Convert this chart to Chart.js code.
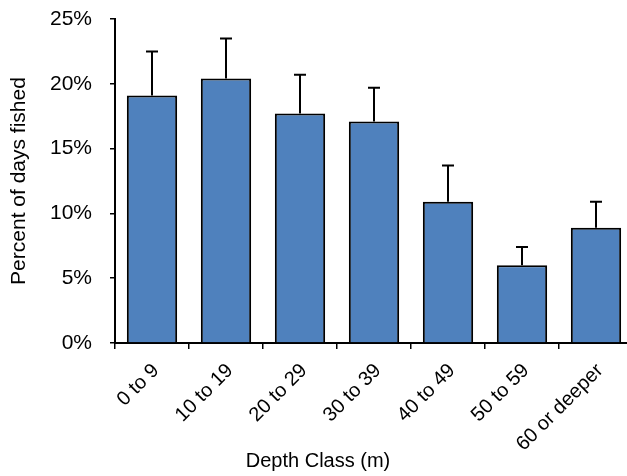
<!DOCTYPE html>
<html>
<head>
<meta charset="utf-8">
<script src="https://cdn.jsdelivr.net/npm/chart.js@4"></script>
<style>
  html, body { margin: 0; padding: 0; background: #fff; overflow: hidden; }
  #wrap { width: 640px; height: 476px; }
</style>
</head>
<body>
<div id="wrap"><canvas id="depthChart" width="640" height="476"></canvas></div>
<script>
const depthClasses = ['0 to 9', '10 to 19', '20 to 29', '30 to 39', '40 to 49', '50 to 59', '60 or deeper'];
const percentDays = [19.1, 20.4, 17.7, 17.1, 10.9, 6.0, 8.9];
const upperError = [3.4, 3.1, 3.0, 2.6, 2.8, 1.4, 2.0];
const yTicks = [0, 5, 10, 15, 20, 25];

const FAMILY = 'Liberation Sans, Arial, sans-serif';
const FONT = { family: FAMILY, size: 21 };
const XFONT = { family: FAMILY, size: 20 };

const errorBars = {
    id: 'errorBars',
    afterDatasetsDraw(chart) {
        const ctx = chart.ctx;
        const meta = chart.getDatasetMeta(0);
        const y = chart.scales.y;
        ctx.save();
        ctx.strokeStyle = '#000';
        ctx.lineWidth = 2;
        meta.data.forEach(function(bar, i) {
            const top = y.getPixelForValue(percentDays[i] + upperError[i]);
            const base = y.getPixelForValue(percentDays[i]);
            ctx.beginPath();
            ctx.moveTo(bar.x, base);
            ctx.lineTo(bar.x, top);
            ctx.moveTo(bar.x - 6, top);
            ctx.lineTo(bar.x + 6, top);
            ctx.stroke();
        });
        ctx.restore();
    }
};

const xTitle = {
    id: 'xTitle',
    afterDraw(chart) {
        const ctx = chart.ctx;
        ctx.save();
        ctx.font = XFONT.size + 'px ' + FAMILY;
        ctx.fillStyle = '#000';
        ctx.textAlign = 'center';
        ctx.textBaseline = 'middle';
        ctx.fillText('Depth Class (m)', 318, 461);
        ctx.restore();
    }
};

new Chart(document.getElementById('depthChart').getContext('2d'), {
    type: 'bar',
    data: {
        labels: depthClasses,
        datasets: [{
            label: 'Percent of days fished',
            data: percentDays,
            backgroundColor: '#4F81BD',
            borderColor: '#000',
            borderWidth: 2,
            barPercentage: 0.68,
            categoryPercentage: 1
        }]
    },
    options: {
        responsive: false,
        animation: false,
        layout: {
            padding: { top: 19, right: 7, left: 0, bottom: 0 }
        },
        plugins: {
            legend: { display: false },
            tooltip: { enabled: false }
        },
        scales: {
            x: {
                grid: {
                    offset: true,
                    drawOnChartArea: false,
                    drawTicks: true,
                    tickLength: 6,
                    color: '#000',
                    lineWidth: 1.5
                },
                border: { display: true, color: '#000', width: 2 },
                ticks: {
                    color: '#000',
                    font: XFONT,
                    minRotation: 45,
                    maxRotation: 45,
                    padding: 10,
                    labelOffset: 4,
                    autoSkip: false
                },
                afterFit: function(scale) {
                    scale.height = 133;
                    scale.paddingLeft = 0;
                    scale.paddingRight = 0;
                }
            },
            y: {
                min: 0,
                max: 25,
                afterBuildTicks: function(scale) {
                    scale.ticks = yTicks.map(function(v) { return { value: v }; });
                },
                grid: {
                    drawOnChartArea: false,
                    drawTicks: true,
                    tickLength: 5,
                    color: '#000',
                    lineWidth: 1.5
                },
                border: { display: true, color: '#000', width: 2 },
                ticks: {
                    color: '#000',
                    font: FONT,
                    padding: 18,
                    callback: function(value) { return value + '%'; }
                },
                title: {
                    display: true,
                    text: 'Percent of days fished',
                    color: '#000',
                    font: FONT,
                    padding: { top: 7, bottom: 0 }
                },
                afterFit: function(scale) {
                    scale.width = 115;
                    scale.paddingTop = 0;
                    scale.paddingBottom = 0;
                }
            }
        }
    },
    plugins: [errorBars, xTitle]
});
</script>
</body>
</html>
